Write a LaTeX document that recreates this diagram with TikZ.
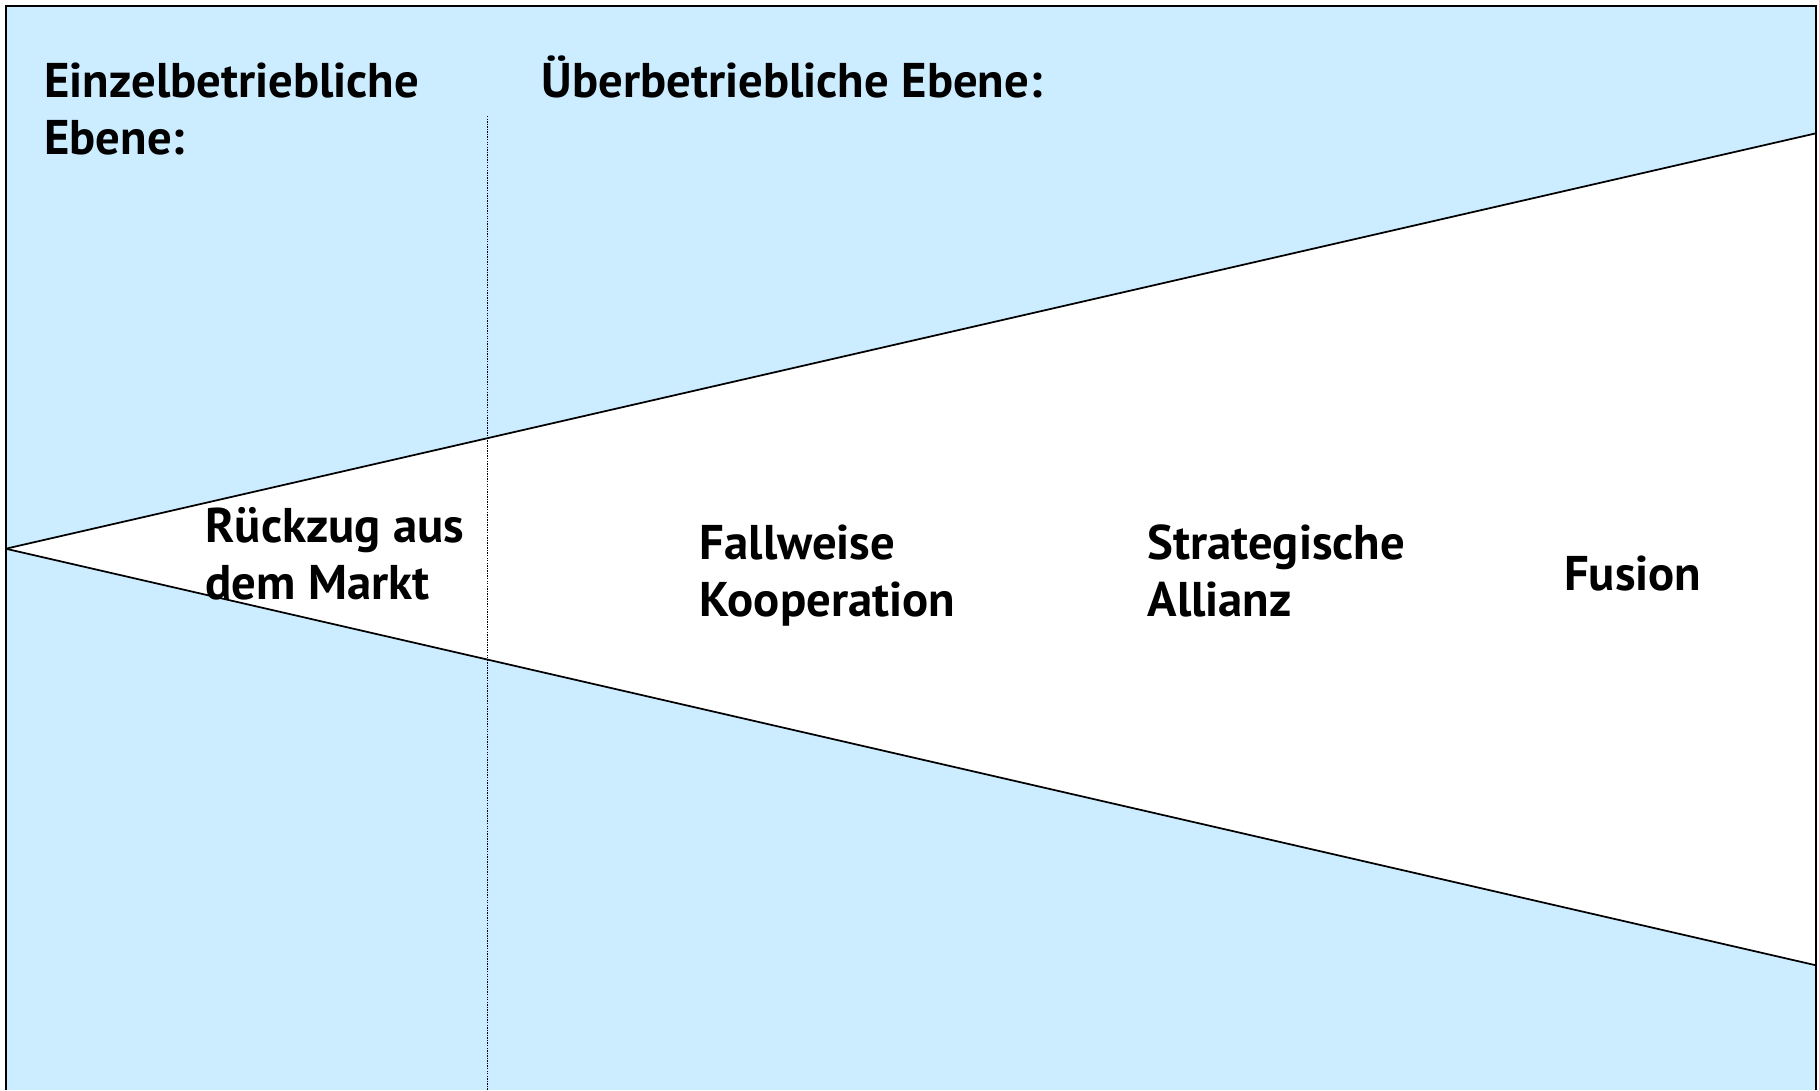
\documentclass[tikz,border=0pt]{standalone}
\usepackage{fontspec}
\setmainfont{PT Sans}
\usetikzlibrary{positioning}
\definecolor{paleblue}{RGB}{204,236,255}
\tikzset{label/.style = {font=\bfseries\fontsize{42}{49}\selectfont, align=left, inner sep=0, anchor=base west}}

\begin{document}
\begin{tikzpicture}[x=1pt, y=-1pt]
    \useasboundingbox (0, 0) rectangle (1568, 940);

    % background and funnel
    \coordinate (apex) at (5, 473);
    \coordinate (upR) at (1565, 115);
    \coordinate (lowR) at (1565, 832);
    \fill [paleblue] (5, 5) rectangle (1565, 940);
    \fill [white] (apex) -- (upR) -- (lowR) -- cycle;
    \draw [line width=1.5pt] (apex) -- (upR);
    \draw [line width=1.5pt] (apex) -- (lowR);

    % divider
    \coordinate (divTop) at (420, 100);
    \coordinate (divBot) at (420, 940);
    \draw [densely dotted, line width=1.2pt] (divTop) -- (divBot);

    % frame
    \draw [line width=1.8pt] (5, 940) -- (5, 5) -- (1565, 5) -- (1565, 940);

    % base anchor = last line
    \node [label] (einzel) at (38, 133) {Einzelbetriebliche\\Ebene:};
    \node [label] (ueber) at (467, 84) {Überbetriebliche Ebene:};

    \node [label] (rueckzug) at (177, 517) {Rückzug aus\\dem Markt};
    \node [label] (fallweise) at (603, 531) {Fallweise\\Kooperation};
    \node [label] (allianz) at (989, 531) {Strategische\\Allianz};
    \node [label] (fusion) at (1348, 509) {Fusion};

\end{tikzpicture}
\end{document}
